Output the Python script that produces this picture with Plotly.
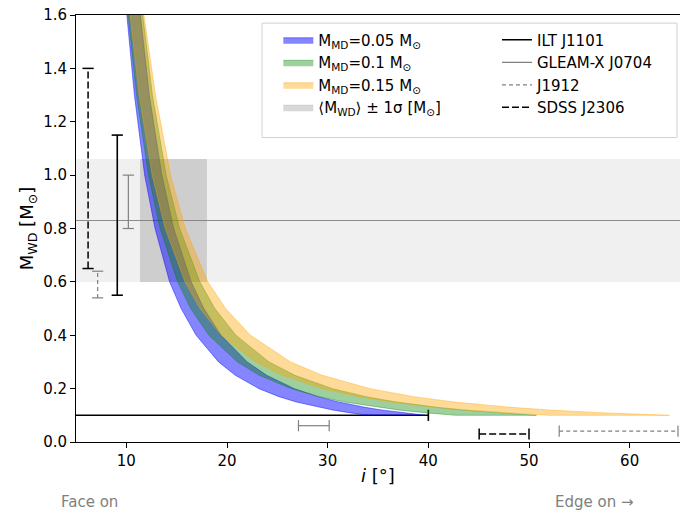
import plotly.graph_objects as go

# ---------------- data ----------------
# White-dwarf mass grid [Msun] and band edges in inclination [deg]
m_grid = [1.70, 1.60, 1.30, 1.00, 0.80, 0.60, 0.50, 0.40, 0.30, 0.25, 0.20, 0.17, 0.15, 0.13, 0.12, 0.11, 0.10]

blue_lo = [9.75, 10.05, 10.80, 11.82, 12.85, 14.30, 15.44, 16.93, 19.16, 20.82, 23.17, 25.16, 26.88, 29.10, 30.47, 32.09, 34.04]
blue_hi = [11.15, 11.40, 12.28, 13.53, 14.71, 16.45, 17.70, 19.41, 22.01, 23.94, 26.69, 29.04, 31.08, 33.72, 35.37, 37.34, 39.73]
green_lo = [9.94, 10.17, 11.01, 12.20, 13.36, 15.10, 16.39, 18.20, 21.03, 23.20, 26.38, 29.16, 31.64, 34.94, 37.03, 39.56, 42.70]
green_hi = [11.37, 11.63, 12.59, 13.96, 15.30, 17.31, 18.79, 20.89, 24.18, 26.73, 30.48, 33.80, 36.80, 40.83, 43.44, 46.65, 50.74]
orange_lo = [10.12, 10.37, 11.27, 12.57, 13.86, 15.83, 17.31, 19.44, 22.84, 25.51, 29.50, 33.08, 36.33, 40.76, 43.65, 47.26, 51.90]
orange_hi = [11.50, 11.75, 12.89, 14.39, 15.87, 18.10, 19.86, 22.33, 26.31, 29.45, 34.21, 38.54, 42.56, 48.19, 52.01, 56.98, 63.95]

band_names = ["M<sub>MD</sub>=0.05 M<sub>⊙</sub>",
              "M<sub>MD</sub>=0.1 M<sub>⊙</sub>",
              "M<sub>MD</sub>=0.15 M<sub>⊙</sub>"]
band_fill = ["rgba(0,0,255,0.48)", "rgba(0,128,0,0.38)", "rgba(255,165,0,0.40)"]
band_edge = ["rgba(0,0,255,0.55)", "rgba(0,128,0,0.45)", "rgba(255,165,0,0.50)"]

# mean WD mass +- 1 sigma and inclination box
mwd_mean = 0.83
mwd_lo, mwd_hi = 0.60, 1.06
box_i_lo, box_i_hi = 11.36, 18.0

# comparison systems
sources = ["ILT J1101", "GLEAM-X J0704", "J1912", "SDSS J2306"]
src_color = ["black", "rgb(128,128,128)", "rgb(128,128,128)", "black"]
src_dash = ["solid", "solid", "4px,3px", "7px,3px"]
src_width = [1.6, 1.2, 1.2, 1.5]
mass_at_i = [9.1, 10.2, 7.15, 6.2]
mass_lo = [0.55, 0.80, 0.54, 0.65]
mass_hi = [1.15, 1.00, 0.64, 1.40]
incl_at_m = [0.10, 0.061, 0.041, 0.030]
incl_lo = [0.0, 27.1, 53.0, 45.05]
incl_hi = [40.0, 30.15, 64.8, 50.0]

# ---------------- figure ----------------
fig = go.Figure()

# error bars (drawn first, under the bands)
for k in range(len(sources)):
    fig.add_trace(go.Scatter(
        x=[mass_at_i[k], mass_at_i[k]], y=[mass_lo[k], mass_hi[k]],
        mode="lines+markers",
        line=dict(color=src_color[k], width=src_width[k], dash=src_dash[k]),
        marker=dict(symbol="line-ew", size=8, line=dict(color=src_color[k], width=src_width[k])),
        showlegend=False, hoverinfo="skip"))
    fig.add_trace(go.Scatter(
        x=[incl_lo[k], incl_hi[k]], y=[incl_at_m[k], incl_at_m[k]],
        mode="lines+markers",
        line=dict(color=src_color[k], width=src_width[k], dash=src_dash[k]),
        marker=dict(symbol="line-ns", size=8, line=dict(color=src_color[k], width=src_width[k])),
        showlegend=False, hoverinfo="skip"))

# bands
edges = [(blue_lo, blue_hi), (green_lo, green_hi), (orange_lo, orange_hi)]
for k, (lo, hi) in enumerate(edges):
    xs = list(lo) + list(reversed(hi))
    ys = list(m_grid) + list(reversed(m_grid))
    fig.add_trace(go.Scatter(
        x=xs, y=ys, mode="lines", fill="toself",
        fillcolor=band_fill[k], line=dict(color=band_edge[k], width=0.8),
        name=band_names[k], legend="legend", legendgroup="b%d" % k,
        hoverinfo="skip"))

# legend-only entries
fig.add_trace(go.Scatter(
    x=[None, None], y=[None, None], mode="lines", fill="toself",
    fillcolor="rgb(216,216,216)", line=dict(color="rgb(200,200,200)", width=0.8),
    name="⟨M<sub>WD</sub>⟩ ± 1σ [M<sub>⊙</sub>]", legend="legend", legendgroup="b3"))
for k in range(len(sources)):
    fig.add_trace(go.Scatter(
        x=[None], y=[None], mode="lines",
        line=dict(color=src_color[k], width=src_width[k], dash=src_dash[k]),
        name=sources[k], legend="legend2", legendgroup="s%d" % k))

# shapes: +-1 sigma band, box and mean line
fig.add_shape(type="rect", xref="paper", x0=0, x1=1, y0=mwd_lo, y1=mwd_hi,
              fillcolor="rgb(240,240,240)", line=dict(width=0), layer="below")
fig.add_shape(type="rect", x0=box_i_lo, x1=box_i_hi, y0=mwd_lo, y1=mwd_hi,
              fillcolor="rgba(120,120,120,0.28)", line=dict(width=0), layer="below")
fig.add_shape(type="line", xref="paper", x0=0, x1=1, y0=mwd_mean, y1=mwd_mean,
              line=dict(color="rgb(140,140,140)", width=1.2), layer="below")

# legend frame
fig.add_shape(type="rect", xref="paper", yref="paper",
              x0=0.308, x1=0.995, y0=0.713, y1=0.981,
              fillcolor="rgba(255,255,255,0.85)", line=dict(color="rgb(210,210,210)", width=1),
              layer="above")

fig.add_annotation(text="Face on", xref="paper", yref="paper", x=0.023, y=-0.141,
                   xanchor="center", yanchor="middle",
                   showarrow=False, font=dict(size=15, color="rgb(128,128,128)"))
fig.add_annotation(text="Edge on →", xref="paper", yref="paper", x=0.858, y=-0.141,
                   xanchor="center", yanchor="middle",
                   showarrow=False, font=dict(size=15, color="rgb(128,128,128)"))

fig.update_layout(
    width=680, height=516,
    margin=dict(l=76, r=0, t=15, b=74),
    plot_bgcolor="white", paper_bgcolor="white",
    font=dict(family="DejaVu Sans", size=15, color="black"),
    legend=dict(x=0.335, y=0.98, xanchor="left", yanchor="top",
                bgcolor="rgba(0,0,0,0)", tracegroupgap=0,
                font=dict(size=15)),
    legend2=dict(x=0.697, y=0.98, xanchor="left", yanchor="top",
                 bgcolor="rgba(0,0,0,0)", tracegroupgap=0,
                 font=dict(size=15)),
    xaxis=dict(range=[5, 65], tickvals=[10, 20, 30, 40, 50, 60],
               showgrid=False, zeroline=False, showline=True, mirror=True,
               linecolor="black", linewidth=1, ticks="outside", ticklen=5,
               tickcolor="black",
               title=dict(text="<i>i</i> [°]", standoff=0)),
    yaxis=dict(range=[0, 1.6], dtick=0.2, tickformat=".1f",
               showgrid=False, zeroline=False, showline=True,
               linecolor="black", linewidth=1, ticks="outside", ticklen=5,
               tickcolor="black",
               title=dict(text="M<sub>WD</sub> [M<sub>⊙</sub>]", standoff=4)),
)

fig.write_html("out.html")
